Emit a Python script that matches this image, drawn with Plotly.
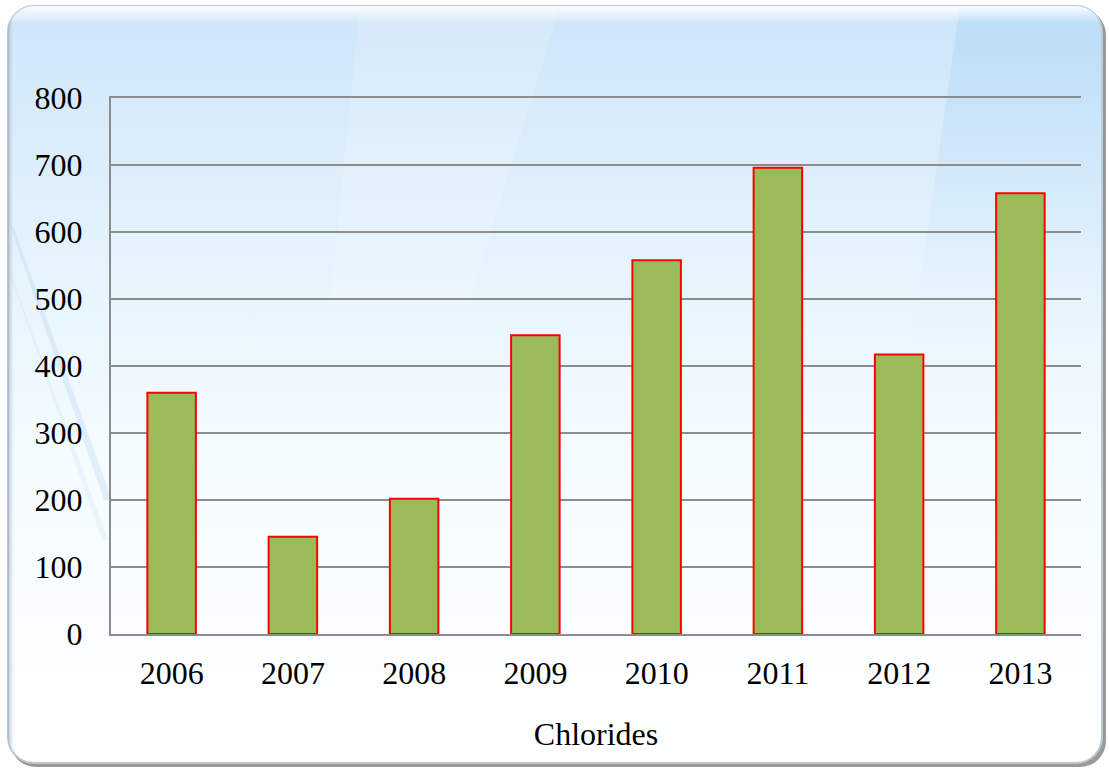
import base64
import plotly.graph_objects as go

# Annual chloride values
years = ["2006", "2007", "2008", "2009", "2010", "2011", "2012", "2013"]
chlorides = [360, 145, 202, 446, 558, 696, 417, 658]
y_ticks = [0, 100, 200, 300, 400, 500, 600, 700, 800]

W, H = 1109, 769
M_L, M_R, M_T, M_B = 111, 28, 98, 135
plot_w = W - M_L - M_R
plot_h = H - M_T - M_B

# Rounded, softly shaded panel behind the chart
panel_svg = f"""<svg xmlns='http://www.w3.org/2000/svg' width='{W}' height='{H}' viewBox='0 0 {W} {H}'>
<defs>
 <linearGradient id='g' x1='0' y1='0' x2='0' y2='1'>
  <stop offset='0' stop-color='#cde5f9'/>
  <stop offset='0.35' stop-color='#e6f4fd'/>
  <stop offset='0.6' stop-color='#f5fcff'/>
  <stop offset='1' stop-color='#ffffff'/>
 </linearGradient>
 <linearGradient id='hl' x1='0' y1='0' x2='0' y2='1'>
  <stop offset='0' stop-color='#ffffff' stop-opacity='0.95'/>
  <stop offset='1' stop-color='#ffffff' stop-opacity='0'/>
 </linearGradient>
 <linearGradient id='streak' x1='0' y1='0' x2='0' y2='1'>
  <stop offset='0' stop-color='#a9d2f5' stop-opacity='0.55'/>
  <stop offset='0.5' stop-color='#c6e3fa' stop-opacity='0.3'/>
  <stop offset='1' stop-color='#ffffff' stop-opacity='0'/>
 </linearGradient>
 <linearGradient id='edge' x1='0' y1='0' x2='1' y2='0'>
  <stop offset='0' stop-color='#9fb4c8' stop-opacity='0.8'/>
  <stop offset='1' stop-color='#ffffff' stop-opacity='0'/>
 </linearGradient>
 <clipPath id='c'><rect x='8' y='6' width='1094' height='757' rx='26' ry='26'/></clipPath>
</defs>
<rect x='10' y='9' width='1096' height='758' rx='26' ry='26' fill='#9a9a9a'/>
<rect x='8' y='6' width='1094' height='757' rx='26' ry='26' fill='url(#g)' stroke='#b9c7d3' stroke-width='2'/>
<g clip-path='url(#c)'>
 <polygon points='960,6 1102,6 1102,420 900,420' fill='url(#streak)'/>
 <polygon points='8,220 14,228 112,500 104,500' fill='#a9cdef' fill-opacity='0.28'/>
 <polygon points='8,270 12,276 108,540 102,540' fill='#c8def2' fill-opacity='0.25'/>
 <polygon points='360,6 560,6 470,300 330,300' fill='#ffffff' fill-opacity='0.15'/>
 <rect x='8' y='6' width='8' height='757' fill='url(#edge)'/>
 <rect x='8' y='6' width='1094' height='18' fill='url(#hl)'/>
</g>
</svg>"""
panel_src = "data:image/svg+xml;base64," + base64.b64encode(panel_svg.encode()).decode()

font_family = "Liberation Serif, Times New Roman, serif"

fig = go.Figure(
    go.Bar(
        x=years,
        y=chlorides,
        marker=dict(color="#9bbb59", line=dict(color="#ff0000", width=2)),
        width=0.4,
    )
)

fig.update_layout(
    width=W,
    height=H,
    margin=dict(l=M_L, r=M_R, t=M_T, b=M_B),
    paper_bgcolor="#ffffff",
    plot_bgcolor="rgba(0,0,0,0)",
    showlegend=False,
    font=dict(family=font_family, size=32, color="#000000"),
    images=[
        dict(
            source=panel_src,
            xref="paper",
            yref="paper",
            x=-M_L / plot_w,
            y=1 + M_T / plot_h,
            sizex=W / plot_w,
            sizey=H / plot_h,
            xanchor="left",
            yanchor="top",
            sizing="stretch",
            layer="below",
        )
    ],
    xaxis=dict(
        showline=True,
        mirror=True,
        linecolor="#8c8c8c",
        linewidth=2,
        ticks="",
        showgrid=False,
        ticklabelstandoff=10,
        tickfont=dict(family=font_family, size=32),
        title=dict(text="Chlorides", font=dict(family=font_family, size=32), standoff=32),
    ),
    yaxis=dict(
        range=[0, 800],
        tickvals=y_ticks,
        showline=True,
        linecolor="#8c8c8c",
        linewidth=2,
        showgrid=True,
        gridcolor="#8c8c8c",
        gridwidth=2,
        zeroline=False,
        ticks="",
        ticklabelstandoff=20,
        tickfont=dict(family=font_family, size=32),
    ),
)

fig.write_html("out.html")
